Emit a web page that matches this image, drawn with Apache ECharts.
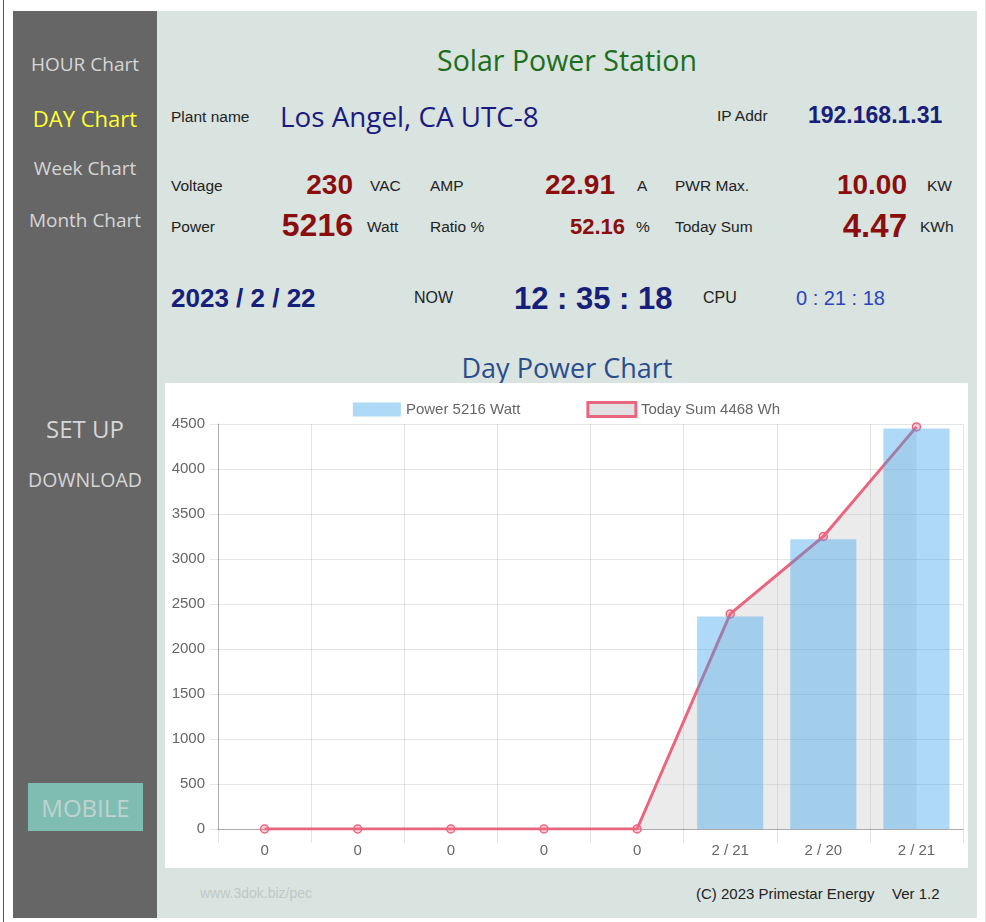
<!DOCTYPE html>
<html>
<head>
<meta charset="utf-8">
<script src="https://cdn.jsdelivr.net/npm/echarts@6/dist/echarts.min.js"></script>
<style>
  html, body { margin:0; padding:0; background:#fff; width:986px; height:922px; overflow:hidden; }
  .t { position:absolute; white-space:nowrap; line-height:1; transform:translateY(-50%); }
  .a { font-family:"Liberation Sans", Arial, sans-serif; }
  .s { font-family:"Open Sans", "Noto Sans", sans-serif; }
  .lbl { font-size:15.5px; color:#222; }
  .red { color:#8b0e0e; font-weight:bold; }
  .navy { color:#16207a; font-weight:bold; }
  .side { left:13px; width:144px; text-align:center; color:#d6d6d6; }
</style>
</head>
<body>
<div style="position:absolute;left:3px;top:0;width:1px;height:922px;background:#555;"></div>
<div style="position:absolute;left:985px;top:0;width:1px;height:922px;background:#e4e4e4;"></div>
<div style="position:absolute;left:13px;top:11px;width:144px;height:907px;background:#666666;"></div>
<div style="position:absolute;left:157px;top:11px;width:820px;height:907px;background:#d9e3e0;"></div>

<!-- sidebar -->
<div class="t s side" style="top:64px;font-size:19px;">HOUR Chart</div>
<div class="t s side" style="top:118px;font-size:22px;color:#ffff33;">DAY Chart</div>
<div class="t s side" style="top:168px;font-size:19px;">Week Chart</div>
<div class="t s side" style="top:220px;font-size:19px;">Month Chart</div>
<div class="t s side" style="top:429px;font-size:24px;">SET UP</div>
<div class="t s side" style="top:480px;font-size:19.5px;">DOWNLOAD</div>
<div style="position:absolute;left:28px;top:783px;width:115px;height:48px;background:#7fbdb3;"></div>
<div class="t s" style="left:28px;width:115px;text-align:center;top:808px;font-size:24px;color:#bfd3cf;">MOBILE</div>

<!-- header -->
<div class="t s" style="left:157px;width:820px;text-align:center;top:60px;font-size:28.5px;color:#1c6e1c;">Solar Power Station</div>
<div class="t a lbl" style="left:171px;top:117px;">Plant name</div>
<div class="t s" style="left:280px;top:117px;font-size:27.8px;color:#1a1a80;">Los Angel, CA UTC-8</div>
<div class="t a lbl" style="left:717px;top:116px;">IP Addr</div>
<div class="t a navy" style="left:808px;top:115px;font-size:23px;">192.168.1.31</div>

<!-- row 1 -->
<div class="t a lbl" style="left:171px;top:186px;">Voltage</div>
<div class="t a red" style="right:633px;top:185px;font-size:28px;">230</div>
<div class="t a lbl" style="left:370px;top:186px;">VAC</div>
<div class="t a lbl" style="left:430px;top:186px;">AMP</div>
<div class="t a red" style="right:371px;top:185px;font-size:28px;">22.91</div>
<div class="t a lbl" style="left:637px;top:186px;">A</div>
<div class="t a lbl" style="left:675px;top:186px;">PWR Max.</div>
<div class="t a red" style="right:79px;top:185px;font-size:28px;">10.00</div>
<div class="t a lbl" style="left:927px;top:186px;">KW</div>

<!-- row 2 -->
<div class="t a lbl" style="left:171px;top:227px;">Power</div>
<div class="t a red" style="right:633px;top:225px;font-size:32px;">5216</div>
<div class="t a lbl" style="left:367px;top:227px;">Watt</div>
<div class="t a lbl" style="left:430px;top:227px;">Ratio %</div>
<div class="t a red" style="right:361px;top:227px;font-size:22px;">52.16</div>
<div class="t a lbl" style="left:636px;top:227px;">%</div>
<div class="t a lbl" style="left:675px;top:227px;">Today Sum</div>
<div class="t a red" style="right:79px;top:225px;font-size:33px;">4.47</div>
<div class="t a lbl" style="left:920px;top:227px;">KWh</div>

<!-- row 3 -->
<div class="t a navy" style="left:171px;top:298px;font-size:26px;">2023 / 2 / 22</div>
<div class="t a lbl" style="left:414px;top:298px;font-size:16px;">NOW</div>
<div class="t a navy" style="left:514px;top:298px;font-size:31px;">12 : 35 : 18</div>
<div class="t a lbl" style="left:703px;top:298px;font-size:16px;">CPU</div>
<div class="t a" style="left:796px;top:298px;font-size:20px;color:#2b46b8;">0 : 21 : 18</div>

<div class="t s" style="left:157px;width:820px;text-align:center;top:367px;font-size:27px;color:#2c4c8c;">Day Power Chart</div>

<div id="chart" style="position:absolute;left:165px;top:383px;width:803px;height:485px;background:#fff;"></div>

<!-- footer -->
<div class="t a" style="left:200px;top:893px;font-size:14px;color:#bfc8c6;">www.3dok.biz/pec</div>
<div class="t a" style="left:696px;top:893px;font-size:15px;color:#222;">(C) 2023 Primestar Energy</div>
<div class="t a" style="left:892px;top:893px;font-size:15px;color:#222;">Ver 1.2</div>

<script>
const categories = ['0', '0', '0', '0', '0', '2 / 21', '2 / 20', '2 / 21'];
const powerValues = [0, 0, 0, 0, 0, 2360, 3220, 4450];
const todaySumValues = [0, 0, 0, 0, 0, 2390, 3250, 4468];
const powerName = 'Power 5216 Watt';
const sumName = 'Today Sum 4468 Wh';
const yMin = 0, yMax = 4500, yStep = 500;

const chart = echarts.init(document.getElementById('chart'), null, { renderer: 'canvas' });
const gridColor = 'rgba(0,0,0,0.1)';
const axisColor = 'rgba(0,0,0,0.25)';
const font = '"Liberation Sans", Arial, sans-serif';
chart.setOption({
  animation: false,
  backgroundColor: '#fff',
  textStyle: { fontFamily: font },
  legend: {
    top: 13,
    left: 'center',
    itemWidth: 48,
    itemHeight: 14,
    itemGap: 66,
    textStyle: { color: '#666', fontSize: 15, fontFamily: font },
    data: [
      { name: powerName, icon: 'rect', itemStyle: { color: 'rgba(54,162,235,0.4)', borderWidth: 0 } },
      { name: sumName, icon: 'rect', itemStyle: { color: '#e1e1e1', borderColor: '#e8677f', borderWidth: 3 } }
    ]
  },
  grid: { left: 53, right: 5, top: 41, bottom: 39, containLabel: false },
  xAxis: {
    type: 'category',
    data: categories,
    boundaryGap: true,
    axisLine: { lineStyle: { color: axisColor } },
    axisTick: { show: true, length: 14, lineStyle: { color: gridColor } },
    splitLine: { show: true, lineStyle: { color: gridColor } },
    axisLabel: { color: '#666', fontSize: 15, margin: 14, interval: 0, fontFamily: font }
  },
  yAxis: {
    type: 'value',
    min: yMin, max: yMax, interval: yStep,
    axisLine: { show: true, lineStyle: { color: axisColor } },
    axisTick: { show: true, length: 8, lineStyle: { color: gridColor } },
    splitLine: { show: true, lineStyle: { color: gridColor } },
    axisLabel: { color: '#666', fontSize: 15, margin: 13, fontFamily: font, formatter: v => String(v) }
  },
  series: [
    {
      name: sumName,
      type: 'line',
      data: todaySumValues,
      z: 2,
      symbol: 'circle',
      symbolSize: 8,
      showAllSymbol: true,
      lineStyle: { color: '#e8677f', width: 3 },
      itemStyle: { color: 'rgba(255,99,132,0.3)', borderColor: '#e8677f', borderWidth: 1.5 },
      areaStyle: { color: 'rgba(192,192,192,0.45)' }
    },
    {
      name: powerName,
      type: 'bar',
      data: powerValues,
      z: 3,
      barWidth: '71%',
      itemStyle: { color: 'rgba(54,162,235,0.4)' }
    }
  ]
});
</script>
</body>
</html>
